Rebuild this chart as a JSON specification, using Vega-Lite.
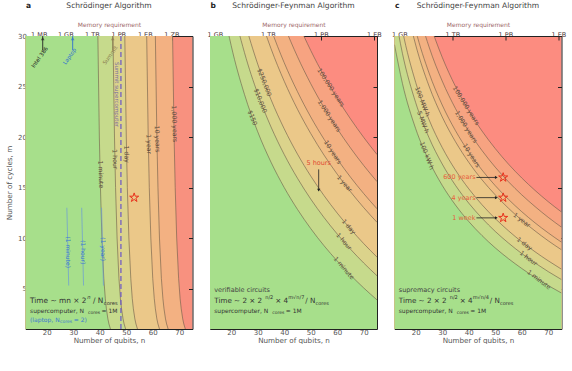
{
"$schema": "https://vega.github.io/schema/vega-lite/v6.json",
"background": "white",
"padding": {"left": 5.5, "top": 2, "right": 0, "bottom": 0},
"bounds": "flush",
"spacing": 17.5,
"config": {
 "font": "DejaVu Sans",
 "view": {"stroke": null},
 "axis": {"grid": false, "domain": true, "domainColor": "#222", "domainWidth": 1, "labelFont": "DejaVu Sans", "titleFont": "DejaVu Sans", "labelFontSize": 7, "titleFontSize": 7.2, "titleFontWeight": "normal", "labelColor": "#555", "titleColor": "#555", "tickColor": "#222", "tickSize": -4, "labelPadding": 3, "zindex": 1}
},
"datasets": {
 "ca": [
  {"lv":"1min","m":30,"n":12,"e":1},{"lv":"1h","m":30,"n":12,"e":1},{"lv":"1d","m":30,"n":12,"e":1},{"lv":"1y","m":30,"n":12,"e":1},{"lv":"10y","m":30,"n":12,"e":1},{"lv":"1000y","m":30,"n":12,"e":1},
  {"lv":"1min","m":1,"n":44.05},{"lv":"1min","m":1.5,"n":43.48},{"lv":"1min","m":2,"n":43.08},{"lv":"1min","m":3,"n":42.51},{"lv":"1min","m":4,"n":42.11},{"lv":"1min","m":6,"n":41.54},{"lv":"1min","m":10,"n":40.83},{"lv":"1min","m":15,"n":40.27},{"lv":"1min","m":20,"n":39.86},{"lv":"1min","m":30,"n":39.3},
  {"lv":"1h","m":1,"n":49.77},{"lv":"1h","m":1.5,"n":49.2},{"lv":"1h","m":2,"n":48.8},{"lv":"1h","m":3,"n":48.23},{"lv":"1h","m":4,"n":47.82},{"lv":"1h","m":6,"n":47.25},{"lv":"1h","m":10,"n":46.55},{"lv":"1h","m":15,"n":45.97},{"lv":"1h","m":20,"n":45.57},{"lv":"1h","m":30,"n":45.0},
  {"lv":"1d","m":1,"n":54.24},{"lv":"1d","m":1.5,"n":53.67},{"lv":"1d","m":2,"n":53.26},{"lv":"1d","m":3,"n":52.69},{"lv":"1d","m":4,"n":52.28},{"lv":"1d","m":6,"n":51.72},{"lv":"1d","m":10,"n":51.0},{"lv":"1d","m":15,"n":50.42},{"lv":"1d","m":20,"n":50.02},{"lv":"1d","m":30,"n":49.46},
  {"lv":"1y","m":1,"n":62.54},{"lv":"1y","m":1.5,"n":61.97},{"lv":"1y","m":2,"n":61.56},{"lv":"1y","m":3,"n":60.99},{"lv":"1y","m":4,"n":60.58},{"lv":"1y","m":6,"n":60.0},{"lv":"1y","m":10,"n":59.28},{"lv":"1y","m":15,"n":58.7},{"lv":"1y","m":20,"n":58.29},{"lv":"1y","m":30,"n":57.72},
  {"lv":"10y","m":1,"n":65.81},{"lv":"10y","m":1.5,"n":65.23},{"lv":"10y","m":2,"n":64.82},{"lv":"10y","m":3,"n":64.25},{"lv":"10y","m":4,"n":63.84},{"lv":"10y","m":6,"n":63.26},{"lv":"10y","m":10,"n":62.54},{"lv":"10y","m":15,"n":61.97},{"lv":"10y","m":20,"n":61.56},{"lv":"10y","m":30,"n":60.99},
  {"lv":"1000y","m":1,"n":72.29},{"lv":"1000y","m":1.5,"n":71.72},{"lv":"1000y","m":2,"n":71.31},{"lv":"1000y","m":3,"n":70.74},{"lv":"1000y","m":4,"n":70.33},{"lv":"1000y","m":6,"n":69.76},{"lv":"1000y","m":10,"n":69.04},{"lv":"1000y","m":15,"n":68.47},{"lv":"1000y","m":20,"n":68.06},{"lv":"1000y","m":30,"n":67.49}
 ],
 "cb": [
  {"lv":"1min","n":12,"m":41.53},{"lv":"1min","n":15,"m":35.79},{"lv":"1min","n":20,"m":29.04},{"lv":"1min","n":25,"m":24.22},{"lv":"1min","n":30,"m":20.52},{"lv":"1min","n":35,"m":17.52},{"lv":"1min","n":40,"m":15.0},{"lv":"1min","n":45,"m":12.84},{"lv":"1min","n":50,"m":10.94},{"lv":"1min","n":55,"m":9.25},{"lv":"1min","n":60,"m":7.73},{"lv":"1min","n":65,"m":6.34},{"lv":"1min","n":70,"m":5.06},{"lv":"1min","n":75,"m":3.88},
  {"lv":"1h","n":12,"m":47.5},{"lv":"1h","n":15,"m":41.13},{"lv":"1h","n":20,"m":33.66},{"lv":"1h","n":25,"m":28.36},{"lv":"1h","n":30,"m":24.29},{"lv":"1h","n":35,"m":21.01},{"lv":"1h","n":40,"m":18.27},{"lv":"1h","n":45,"m":15.92},{"lv":"1h","n":50,"m":13.86},{"lv":"1h","n":55,"m":12.04},{"lv":"1h","n":60,"m":10.4},{"lv":"1h","n":65,"m":8.9},{"lv":"1h","n":70,"m":7.53},{"lv":"1h","n":75,"m":6.27},
  {"lv":"1d","n":12,"m":52.1},{"lv":"1d","n":15,"m":45.28},{"lv":"1d","n":20,"m":37.25},{"lv":"1d","n":25,"m":31.57},{"lv":"1d","n":30,"m":27.22},{"lv":"1d","n":35,"m":23.72},{"lv":"1d","n":40,"m":20.81},{"lv":"1d","n":45,"m":18.31},{"lv":"1d","n":50,"m":16.14},{"lv":"1d","n":55,"m":14.21},{"lv":"1d","n":60,"m":12.47},{"lv":"1d","n":65,"m":10.9},{"lv":"1d","n":70,"m":9.45},{"lv":"1d","n":75,"m":8.12},
  {"lv":"1y","n":12,"m":60.7},{"lv":"1y","n":15,"m":52.97},{"lv":"1y","n":20,"m":43.91},{"lv":"1y","n":25,"m":37.53},{"lv":"1y","n":30,"m":32.66},{"lv":"1y","n":35,"m":28.76},{"lv":"1y","n":40,"m":25.52},{"lv":"1y","n":45,"m":22.75},{"lv":"1y","n":50,"m":20.35},{"lv":"1y","n":55,"m":18.22},{"lv":"1y","n":60,"m":16.32},{"lv":"1y","n":65,"m":14.59},{"lv":"1y","n":70,"m":13.01},{"lv":"1y","n":75,"m":11.56},
  {"lv":"10y","n":12,"m":64.1},{"lv":"10y","n":15,"m":55.97},{"lv":"10y","n":20,"m":46.51},{"lv":"10y","n":25,"m":39.85},{"lv":"10y","n":30,"m":34.78},{"lv":"10y","n":35,"m":30.72},{"lv":"10y","n":40,"m":27.35},{"lv":"10y","n":45,"m":24.49},{"lv":"10y","n":50,"m":21.99},{"lv":"10y","n":55,"m":19.79},{"lv":"10y","n":60,"m":17.82},{"lv":"10y","n":65,"m":16.03},{"lv":"10y","n":70,"m":14.4},{"lv":"10y","n":75,"m":12.9},
  {"lv":"1000y","n":12,"m":70.8},{"lv":"1000y","n":15,"m":61.97},{"lv":"1000y","n":20,"m":51.71},{"lv":"1000y","n":25,"m":44.5},{"lv":"1000y","n":30,"m":39.03},{"lv":"1000y","n":35,"m":34.65},{"lv":"1000y","n":40,"m":31.03},{"lv":"1000y","n":45,"m":27.95},{"lv":"1000y","n":50,"m":25.28},{"lv":"1000y","n":55,"m":22.92},{"lv":"1000y","n":60,"m":20.82},{"lv":"1000y","n":65,"m":18.92},{"lv":"1000y","n":70,"m":17.18},{"lv":"1000y","n":75,"m":15.59},
  {"lv":"1e5y","n":12,"m":77.5},{"lv":"1e5y","n":15,"m":67.97},{"lv":"1e5y","n":20,"m":56.91},{"lv":"1e5y","n":25,"m":49.15},{"lv":"1e5y","n":30,"m":43.27},{"lv":"1e5y","n":35,"m":38.58},{"lv":"1e5y","n":40,"m":34.7},{"lv":"1e5y","n":45,"m":31.42},{"lv":"1e5y","n":50,"m":28.57},{"lv":"1e5y","n":55,"m":26.06},{"lv":"1e5y","n":60,"m":23.82},{"lv":"1e5y","n":65,"m":21.8},{"lv":"1e5y","n":70,"m":19.96},{"lv":"1e5y","n":75,"m":18.27}
 ],
 "cc": [
  {"lv":"1min","n":12,"m":29.14},{"lv":"1min","n":15,"m":25.3},{"lv":"1min","n":20,"m":20.82},{"lv":"1min","n":25,"m":17.65},{"lv":"1min","n":30,"m":15.22},{"lv":"1min","n":35,"m":13.27},{"lv":"1min","n":40,"m":11.64},{"lv":"1min","n":45,"m":10.25},{"lv":"1min","n":50,"m":9.03},{"lv":"1min","n":55,"m":7.96},{"lv":"1min","n":60,"m":6.99},{"lv":"1min","n":65,"m":6.11},{"lv":"1min","n":70,"m":5.3},{"lv":"1min","n":75,"m":4.56},
  {"lv":"1h","n":12,"m":32.46},{"lv":"1h","n":15,"m":28.27},{"lv":"1h","n":20,"m":23.4},{"lv":"1h","n":25,"m":19.95},{"lv":"1h","n":30,"m":17.33},{"lv":"1h","n":35,"m":15.22},{"lv":"1h","n":40,"m":13.46},{"lv":"1h","n":45,"m":11.97},{"lv":"1h","n":50,"m":10.66},{"lv":"1h","n":55,"m":9.51},{"lv":"1h","n":60,"m":8.47},{"lv":"1h","n":65,"m":7.54},{"lv":"1h","n":70,"m":6.68},{"lv":"1h","n":75,"m":5.89},
  {"lv":"1d","n":12,"m":35.05},{"lv":"1d","n":15,"m":30.58},{"lv":"1d","n":20,"m":25.4},{"lv":"1d","n":25,"m":21.74},{"lv":"1d","n":30,"m":18.96},{"lv":"1d","n":35,"m":16.73},{"lv":"1d","n":40,"m":14.88},{"lv":"1d","n":45,"m":13.3},{"lv":"1d","n":50,"m":11.93},{"lv":"1d","n":55,"m":10.72},{"lv":"1d","n":60,"m":9.63},{"lv":"1d","n":65,"m":8.65},{"lv":"1d","n":70,"m":7.75},{"lv":"1d","n":75,"m":6.92},
  {"lv":"1y","n":12,"m":39.84},{"lv":"1y","n":15,"m":34.87},{"lv":"1y","n":20,"m":29.11},{"lv":"1y","n":25,"m":25.06},{"lv":"1y","n":30,"m":21.99},{"lv":"1y","n":35,"m":19.54},{"lv":"1y","n":40,"m":17.5},{"lv":"1y","n":45,"m":15.77},{"lv":"1y","n":50,"m":14.28},{"lv":"1y","n":55,"m":12.95},{"lv":"1y","n":60,"m":11.77},{"lv":"1y","n":65,"m":10.71},{"lv":"1y","n":70,"m":9.73},{"lv":"1y","n":75,"m":8.84},
  {"lv":"10y","n":12,"m":41.71},{"lv":"10y","n":15,"m":36.54},{"lv":"10y","n":20,"m":30.56},{"lv":"10y","n":25,"m":26.36},{"lv":"10y","n":30,"m":23.17},{"lv":"10y","n":35,"m":20.63},{"lv":"10y","n":40,"m":18.52},{"lv":"10y","n":45,"m":16.74},{"lv":"10y","n":50,"m":15.19},{"lv":"10y","n":55,"m":13.83},{"lv":"10y","n":60,"m":12.61},{"lv":"10y","n":65,"m":11.51},{"lv":"10y","n":70,"m":10.51},{"lv":"10y","n":75,"m":9.59},
  {"lv":"1000y","n":12,"m":45.44},{"lv":"1000y","n":15,"m":39.88},{"lv":"1000y","n":20,"m":33.45},{"lv":"1000y","n":25,"m":28.95},{"lv":"1000y","n":30,"m":25.54},{"lv":"1000y","n":35,"m":22.82},{"lv":"1000y","n":40,"m":20.57},{"lv":"1000y","n":45,"m":18.67},{"lv":"1000y","n":50,"m":17.02},{"lv":"1000y","n":55,"m":15.57},{"lv":"1000y","n":60,"m":14.28},{"lv":"1000y","n":65,"m":13.12},{"lv":"1000y","n":70,"m":12.05},{"lv":"1000y","n":75,"m":11.08},
  {"lv":"1e5y","n":12,"m":49.18},{"lv":"1e5y","n":15,"m":43.23},{"lv":"1e5y","n":20,"m":36.35},{"lv":"1e5y","n":25,"m":31.54},{"lv":"1e5y","n":30,"m":27.9},{"lv":"1e5y","n":35,"m":25.01},{"lv":"1e5y","n":40,"m":22.62},{"lv":"1e5y","n":45,"m":20.6},{"lv":"1e5y","n":50,"m":18.86},{"lv":"1e5y","n":55,"m":17.32},{"lv":"1e5y","n":60,"m":15.95},{"lv":"1e5y","n":65,"m":14.72},{"lv":"1e5y","n":70,"m":13.6},{"lv":"1e5y","n":75,"m":12.58}
 ]
},
"hconcat": [
 {
  "width": 167, "height": 293,
  "view": {"fill": "#f8917f", "stroke": null},
  "encoding": {
   "x": {"field": "n", "type": "quantitative", "scale": {"domain": [12, 75], "nice": false, "zero": false}, "axis": null},
   "y": {"field": "m", "type": "quantitative", "scale": {"domain": [1, 30], "nice": false, "zero": false}, "axis": null}
  },
  "layer": [
   {"data": {"name": "ca"}, "transform": [{"filter": {"field": "lv", "equal": "1000y"}}], "mark": {"type": "area", "color": "#f3b182", "clip": true}},
   {"data": {"name": "ca"}, "transform": [{"filter": {"field": "lv", "equal": "10y"}}], "mark": {"type": "area", "color": "#f0bd85", "clip": true}},
   {"data": {"name": "ca"}, "transform": [{"filter": {"field": "lv", "equal": "1y"}}], "mark": {"type": "area", "color": "#ebc889", "clip": true}},
   {"data": {"name": "ca"}, "transform": [{"filter": {"field": "lv", "equal": "1d"}}], "mark": {"type": "area", "color": "#dbd38b", "clip": true}},
   {"data": {"name": "ca"}, "transform": [{"filter": {"field": "lv", "equal": "1h"}}], "mark": {"type": "area", "color": "#c6da8c", "clip": true}},
   {"data": {"name": "ca"}, "transform": [{"filter": {"field": "lv", "equal": "1min"}}], "mark": {"type": "area", "color": "#a7df8b", "clip": true}},
   {"data": {"name": "ca"}, "transform": [{"filter": {"not": {"field": "e", "equal": 1}}}], "mark": {"type": "line", "color": "#6b5a48", "strokeWidth": 0.6, "clip": true},
    "encoding": {
     "x": {"field": "n", "type": "quantitative", "axis": {"orient": "bottom", "values": [20, 30, 40, 50, 60, 70], "title": "Number of qubits, n", "titlePadding": 1}},
     "y": {"field": "m", "type": "quantitative", "axis": {"orient": "left", "values": [5, 10, 15, 20, 25, 30], "title": "Number of cycles, m", "titlePadding": 4}},
     "detail": {"field": "lv"}}},
   {"data": {"values": [{"n": 40.4, "m": 16.3, "t": "1 minute"}, {"n": 45.75, "m": 17.8, "t": "1 hour"}, {"n": 50.1, "m": 18.3, "t": "1 day"}, {"n": 58.5, "m": 19.3, "t": "1 year"}, {"n": 61.7, "m": 19.8, "t": "10 years"}, {"n": 68.2, "m": 21.3, "t": "1,000 years"}]},
    "mark": {"type": "text", "angle": 88, "fontSize": 6.2, "color": "#5b4a3c"}, "encoding": {"text": {"field": "t"}}},
   {"data": {"values": [{"n": 48}]}, "mark": {"type": "rule", "color": "#6a55c8", "strokeWidth": 1.2, "strokeDash": [5, 3]}, "encoding": {"y": null}},
   {"data": {"values": [{"n": 46.5, "m": 24.2, "t": "Summit supercomputer"}]}, "mark": {"type": "text", "angle": 90, "fontSize": 5.5, "color": "#7a70a0"}, "encoding": {"text": {"field": "t"}}},
   {"data": {"values": [{"n": 18.5, "m": 30, "m2": 28.6, "c": "k"}, {"n": 29.8, "m": 30, "m2": 28.6, "c": "b"}, {"n": 44.9, "m": 30, "m2": 28.6, "c": "s"}]},
    "mark": {"type": "rule", "strokeWidth": 0.9}, "encoding": {"y2": {"field": "m2"}, "color": {"field": "c", "type": "nominal", "scale": {"domain": ["k", "b", "s"], "range": ["#222222", "#2f6fd0", "#8a7a50"]}, "legend": null}}},
   {"data": {"values": [{"n": 18.5, "m": 29.75, "c": "k"}, {"n": 29.8, "m": 29.75, "c": "b"}, {"n": 44.9, "m": 29.75, "c": "s"}]},
    "mark": {"type": "point", "shape": "triangle-up", "filled": true, "size": 14}, "encoding": {"color": {"field": "c", "type": "nominal", "scale": {"domain": ["k", "b", "s"], "range": ["#222222", "#2f6fd0", "#8a7a50"]}, "legend": null}}},
   {"data": {"values": [{"n": 17.3, "m": 27.9, "t": "Intel 386", "c": "k"}, {"n": 28.6, "m": 28.0, "t": "Laptop", "c": "b"}, {"n": 43.9, "m": 28.1, "t": "Summit", "c": "s"}]},
    "mark": {"type": "text", "angle": -55, "fontSize": 5.5}, "encoding": {"text": {"field": "t"}, "color": {"field": "c", "type": "nominal", "scale": {"domain": ["k", "b", "s"], "range": ["#222222", "#2f6fd0", "#8a7a50"]}, "legend": null}}},
   {"data": {"values": [{"g": "a", "n": 27.6, "m": 13}, {"g": "a", "n": 28.3, "m": 5.3}, {"g": "b", "n": 33.2, "m": 13}, {"g": "b", "n": 33.9, "m": 5.3}, {"g": "c", "n": 40.7, "m": 13}, {"g": "c", "n": 41.4, "m": 5.3}]},
    "mark": {"type": "line", "color": "#6a9ad8", "strokeWidth": 0.7}, "encoding": {"detail": {"field": "g"}, "order": {"field": "m"}}},
   {"data": {"values": [{"n": 28.0, "m": 8.6, "t": "(1 minute)"}, {"n": 33.6, "m": 8.6, "t": "(1 hour)"}, {"n": 41.1, "m": 8.9, "t": "(1 year)"}]},
    "mark": {"type": "text", "angle": 90, "fontSize": 6, "color": "#3a78d0"}, "encoding": {"text": {"field": "t"}}},
   {"data": {"values": [{"n": 14}, {"n": 15.5}, {"n": 17}, {"n": 18.5}, {"n": 20}, {"n": 21.5}, {"n": 23}, {"n": 24.5}, {"n": 26}, {"n": 27.5}, {"n": 29}, {"n": 30.5}, {"n": 32}, {"n": 33.5}, {"n": 35}, {"n": 36.5}, {"n": 38}]},
    "mark": {"type": "point", "shape": "circle", "size": 26, "filled": false, "color": "#e8401c", "strokeWidth": 1, "opacity": 1},
    "encoding": {
     "x": {"field": "n", "type": "quantitative", "axis": {"orient": "top", "values": [17, 27, 37, 47, 57, 67], "labelExpr": "datum.value < 20 ? '1 MB' : datum.value < 30 ? '1 GB' : datum.value < 40 ? '1 TB' : datum.value < 50 ? '1 PB' : datum.value < 60 ? '1 EB' : '1 ZB'", "title": "Memory requirement", "titleColor": "#a06a6a", "titleFontSize": 6, "labelFontSize": 6.5, "labelColor": "#4a3535", "titlePadding": 4}},
     "y": {"datum": 14, "type": "quantitative", "axis": {"orient": "right", "values": [5, 10, 15, 20, 25, 30], "labels": false, "title": null}}}},
   {"data": {"values": [{"n": 53, "m": 14}]}, "mark": {"type": "point", "shape": "M0,-1L0.2245,-0.309L0.951,-0.309L0.363,0.118L0.588,0.809L0,0.382L-0.588,0.809L-0.363,0.118L-0.951,-0.309L-0.2245,-0.309Z", "size": 90, "filled": false, "color": "#e8301c", "strokeWidth": 1, "opacity": 1}},
   {"data": {"values": [{"n": 13.7, "m": 3.8}]}, "mark": {"type": "text", "align": "left", "fontSize": 7.4, "color": "#333", "text": "Time ~ mn × 2"}},
   {"data": {"values": [{"n": 13.7, "m": 3.8}]}, "mark": {"type": "text", "align": "left", "fontSize": 5.2, "color": "#333", "text": "n", "dx": 57.2, "dy": -3.5, "fontStyle": "italic"}},
   {"data": {"values": [{"n": 13.7, "m": 3.8}]}, "mark": {"type": "text", "align": "left", "fontSize": 7.4, "color": "#333", "text": "/ N", "dx": 63}},
   {"data": {"values": [{"n": 13.7, "m": 3.8}]}, "mark": {"type": "text", "align": "left", "fontSize": 5.2, "color": "#333", "text": "cores", "dx": 73.8, "dy": 2}},
   {"data": {"values": [{"n": 13.7, "m": 2.8}]}, "mark": {"type": "text", "align": "left", "fontSize": 6, "color": "#333", "text": "supercomputer, N"}},
   {"data": {"values": [{"n": 13.7, "m": 2.8}]}, "mark": {"type": "text", "align": "left", "fontSize": 4.5, "color": "#333", "text": "cores", "dx": 58, "dy": 1.8}},
   {"data": {"values": [{"n": 13.7, "m": 2.8}]}, "mark": {"type": "text", "align": "left", "fontSize": 6, "color": "#333", "text": "= 1M", "dx": 71.5}},
   {"data": {"values": [{"n": 13.7, "m": 1.9}]}, "mark": {"type": "text", "align": "left", "fontSize": 6, "color": "#3a78d0", "text": "(laptop, N"}},
   {"data": {"values": [{"n": 13.7, "m": 1.9}]}, "mark": {"type": "text", "align": "left", "fontSize": 4.5, "color": "#3a78d0", "text": "cores", "dx": 30, "dy": 1.8}},
   {"data": {"values": [{"n": 13.7, "m": 1.9}]}, "mark": {"type": "text", "align": "left", "fontSize": 6, "color": "#3a78d0", "text": "= 2)", "dx": 43.8}},
   {"data": {"values": [{"n": 43.5, "m": 32.95}]}, "mark": {"type": "text", "fontSize": 7.6, "color": "#444", "text": "Schrödinger Algorithm"}},
   {"data": {"values": [{"n": 12.2, "m": 32.95}]}, "mark": {"type": "text", "align": "left", "fontSize": 7.5, "fontWeight": "bold", "color": "#222", "text": "a"}}
  ],
  "resolve": {"axis": {"x": "independent", "y": "independent"}}
 },
 {
  "width": 167, "height": 293,
  "view": {"fill": "#fc8c80", "stroke": null},
  "encoding": {
   "x": {"field": "n", "type": "quantitative", "scale": {"domain": [12, 75], "nice": false, "zero": false}, "axis": null},
   "y": {"field": "m", "type": "quantitative", "scale": {"domain": [1, 30], "nice": false, "zero": false}, "axis": null}
  },
  "layer": [
   {"data": {"name": "cb"}, "transform": [{"filter": {"field": "lv", "equal": "1e5y"}}], "mark": {"type": "area", "color": "#f7a381", "clip": true, "interpolate": "monotone"}},
   {"data": {"name": "cb"}, "transform": [{"filter": {"field": "lv", "equal": "1000y"}}], "mark": {"type": "area", "color": "#f3b182", "clip": true, "interpolate": "monotone"}},
   {"data": {"name": "cb"}, "transform": [{"filter": {"field": "lv", "equal": "10y"}}], "mark": {"type": "area", "color": "#f0bd85", "clip": true, "interpolate": "monotone"}},
   {"data": {"name": "cb"}, "transform": [{"filter": {"field": "lv", "equal": "1y"}}], "mark": {"type": "area", "color": "#ebc889", "clip": true, "interpolate": "monotone"}},
   {"data": {"name": "cb"}, "transform": [{"filter": {"field": "lv", "equal": "1d"}}], "mark": {"type": "area", "color": "#dbd38b", "clip": true, "interpolate": "monotone"}},
   {"data": {"name": "cb"}, "transform": [{"filter": {"field": "lv", "equal": "1h"}}], "mark": {"type": "area", "color": "#c6da8c", "clip": true, "interpolate": "monotone"}},
   {"data": {"name": "cb"}, "transform": [{"filter": {"field": "lv", "equal": "1min"}}], "mark": {"type": "area", "color": "#a7df8b", "clip": true, "interpolate": "monotone"}},
   {"data": {"name": "cb"}, "mark": {"type": "line", "color": "#6b5a48", "strokeWidth": 0.6, "clip": true, "interpolate": "monotone"},
    "encoding": {
     "x": {"field": "n", "type": "quantitative", "axis": {"orient": "bottom", "values": [20, 30, 40, 50, 60, 70], "title": "Number of qubits, n", "titlePadding": 1}},
     "y": {"field": "m", "type": "quantitative", "axis": {"orient": "left", "values": [5, 10, 15, 20, 25, 30], "labels": false, "title": null}},
     "detail": {"field": "lv"}}},
   {"data": {"values": [{"n": 28, "m": 21.9, "t": "$150"}, {"n": 31, "m": 23.6, "t": "$10,000"}, {"n": 32.5, "m": 25.4, "t": "$250,000"}]},
    "mark": {"type": "text", "angle": 69, "fontSize": 6.2, "color": "#5b4a3c"}, "encoding": {"text": {"field": "t"}}},
   {"data": {"values": [{"n": 57.6, "m": 24.9, "t": "100,000 years"}, {"n": 57, "m": 22.08, "t": "1,000 years"}, {"n": 58.3, "m": 18.49, "t": "10 years"}]},
    "mark": {"type": "text", "angle": 57, "fontSize": 6.2, "color": "#5b4a3c"}, "encoding": {"text": {"field": "t"}}},
   {"data": {"values": [{"n": 62.7, "m": 15.39, "t": "1 year"}, {"n": 64.3, "m": 11.12, "t": "1 day"}, {"n": 62.5, "m": 9.65, "t": "1 hour"}, {"n": 62.5, "m": 7.03, "t": "1 minute"}]},
    "mark": {"type": "text", "angle": 49, "fontSize": 6.2, "color": "#5b4a3c"}, "encoding": {"text": {"field": "t"}}},
   {"data": {"values": [{"n": 39}, {"n": 42}, {"n": 43}, {"n": 53}]},
    "mark": {"type": "point", "shape": "circle", "size": 34, "filled": false, "color": "#e8401c", "strokeWidth": 1, "opacity": 1},
    "encoding": {
     "x": {"field": "n", "type": "quantitative", "axis": {"orient": "top", "values": [13.8, 33.8, 53.8, 73.8], "labelExpr": "datum.value < 20 ? '1 GB' : datum.value < 40 ? '1 TB' : datum.value < 60 ? '1 PB' : '1 EB'", "title": "Memory requirement", "titleColor": "#a06a6a", "titleFontSize": 6, "labelFontSize": 6.5, "labelColor": "#4a3535", "titlePadding": 4}},
     "y": {"datum": 14, "type": "quantitative", "axis": {"orient": "right", "values": [5, 10, 15, 20, 25, 30], "labels": false, "title": null}}}},
   {"data": {"values": [{"n": 53, "m": 16.8, "m2": 14.7}]}, "mark": {"type": "rule", "color": "#222", "strokeWidth": 0.8}, "encoding": {"y2": {"field": "m2"}}},
   {"data": {"values": [{"n": 53, "m": 14.75}]}, "mark": {"type": "point", "shape": "triangle-down", "filled": true, "size": 10, "color": "#222", "opacity": 1}},
   {"data": {"values": [{"n": 53, "m": 17.4}]}, "mark": {"type": "text", "fontSize": 6.5, "color": "#e24a33", "text": "5 hours"}},
   {"data": {"values": [{"n": 13.6, "m": 4.85}]}, "mark": {"type": "text", "align": "left", "fontSize": 6.5, "color": "#444", "text": "verifiable circuits"}},
   {"data": {"values": [{"n": 13.6, "m": 3.8}]}, "mark": {"type": "text", "align": "left", "fontSize": 7.2, "color": "#333", "text": "Time ~ 2 × 2"}},
   {"data": {"values": [{"n": 13.6, "m": 3.8}]}, "mark": {"type": "text", "align": "left", "fontSize": 5, "color": "#333", "text": "n/2", "dx": 51, "dy": -3.5}},
   {"data": {"values": [{"n": 13.6, "m": 3.8}]}, "mark": {"type": "text", "align": "left", "fontSize": 7.2, "color": "#333", "text": "× 4", "dx": 61}},
   {"data": {"values": [{"n": 13.6, "m": 3.8}]}, "mark": {"type": "text", "align": "left", "fontSize": 5, "color": "#333", "text": "m√n/7", "dx": 74, "dy": -3.5}},
   {"data": {"values": [{"n": 13.6, "m": 3.8}]}, "mark": {"type": "text", "align": "left", "fontSize": 7.2, "color": "#333", "text": "/ N", "dx": 91}},
   {"data": {"values": [{"n": 13.6, "m": 3.8}]}, "mark": {"type": "text", "align": "left", "fontSize": 5, "color": "#333", "text": "cores", "dx": 101.3, "dy": 2}},
   {"data": {"values": [{"n": 13.6, "m": 2.8}]}, "mark": {"type": "text", "align": "left", "fontSize": 6, "color": "#333", "text": "supercomputer, N"}},
   {"data": {"values": [{"n": 13.6, "m": 2.8}]}, "mark": {"type": "text", "align": "left", "fontSize": 4.5, "color": "#333", "text": "cores", "dx": 58, "dy": 1.8}},
   {"data": {"values": [{"n": 13.6, "m": 2.8}]}, "mark": {"type": "text", "align": "left", "fontSize": 6, "color": "#333", "text": "= 1M", "dx": 71.5}},
   {"data": {"values": [{"n": 43.5, "m": 32.95}]}, "mark": {"type": "text", "fontSize": 7.6, "color": "#444", "text": "Schrödinger-Feynman Algorithm"}},
   {"data": {"values": [{"n": 12.2, "m": 32.95}]}, "mark": {"type": "text", "align": "left", "fontSize": 7.5, "fontWeight": "bold", "color": "#222", "text": "b"}}
  ],
  "resolve": {"axis": {"x": "independent", "y": "independent"}}
 },
 {
  "width": 167, "height": 293,
  "view": {"fill": "#fc8c80", "stroke": null},
  "encoding": {
   "x": {"field": "n", "type": "quantitative", "scale": {"domain": [12, 75], "nice": false, "zero": false}, "axis": null},
   "y": {"field": "m", "type": "quantitative", "scale": {"domain": [1, 30], "nice": false, "zero": false}, "axis": null}
  },
  "layer": [
   {"data": {"name": "cc"}, "transform": [{"filter": {"field": "lv", "equal": "1e5y"}}], "mark": {"type": "area", "color": "#f7a381", "clip": true, "interpolate": "monotone"}},
   {"data": {"name": "cc"}, "transform": [{"filter": {"field": "lv", "equal": "1000y"}}], "mark": {"type": "area", "color": "#f3b182", "clip": true, "interpolate": "monotone"}},
   {"data": {"name": "cc"}, "transform": [{"filter": {"field": "lv", "equal": "10y"}}], "mark": {"type": "area", "color": "#f0bd85", "clip": true, "interpolate": "monotone"}},
   {"data": {"name": "cc"}, "transform": [{"filter": {"field": "lv", "equal": "1y"}}], "mark": {"type": "area", "color": "#ebc889", "clip": true, "interpolate": "monotone"}},
   {"data": {"name": "cc"}, "transform": [{"filter": {"field": "lv", "equal": "1d"}}], "mark": {"type": "area", "color": "#dbd38b", "clip": true, "interpolate": "monotone"}},
   {"data": {"name": "cc"}, "transform": [{"filter": {"field": "lv", "equal": "1h"}}], "mark": {"type": "area", "color": "#c6da8c", "clip": true, "interpolate": "monotone"}},
   {"data": {"name": "cc"}, "transform": [{"filter": {"field": "lv", "equal": "1min"}}], "mark": {"type": "area", "color": "#a7df8b", "clip": true, "interpolate": "monotone"}},
   {"data": {"name": "cc"}, "mark": {"type": "line", "color": "#6b5a48", "strokeWidth": 0.6, "clip": true, "interpolate": "monotone"},
    "encoding": {
     "x": {"field": "n", "type": "quantitative", "axis": {"orient": "bottom", "values": [20, 30, 40, 50, 60, 70], "title": "Number of qubits, n", "titlePadding": 1}},
     "y": {"field": "m", "type": "quantitative", "axis": {"orient": "left", "values": [5, 10, 15, 20, 25, 30], "labels": false, "title": null}},
     "detail": {"field": "lv"}}},
   {"data": {"values": [{"n": 22.5, "m": 23.5, "t": "100 MW·h"}, {"n": 22.8, "m": 21.47, "t": "5 MW·h"}, {"n": 24.2, "m": 18.15, "t": "100 kW·h"}]},
    "mark": {"type": "text", "angle": 69, "fontSize": 6.2, "color": "#5b4a3c"}, "encoding": {"text": {"field": "t"}}},
   {"data": {"values": [{"n": 39, "m": 23.1, "t": "100,000 years"}, {"n": 39, "m": 21.0, "t": "1,000 years"}, {"n": 41, "m": 18.16, "t": "10 years"}]},
    "mark": {"type": "text", "angle": 58, "fontSize": 6.2, "color": "#5b4a3c"}, "encoding": {"text": {"field": "t"}}},
   {"data": {"values": [{"n": 60, "m": 11.77, "t": "1 year"}, {"n": 61, "m": 9.43, "t": "1 day"}, {"n": 62.5, "m": 8.0, "t": "1 hour"}, {"n": 66.5, "m": 5.87, "t": "1 minute"}]},
    "mark": {"type": "text", "angle": 37, "fontSize": 6.2, "color": "#5b4a3c"}, "encoding": {"text": {"field": "t"}}},
   {"data": {"values": [{"n1": 42.9, "n2": 50.4, "m": 16}, {"n1": 42.9, "n2": 50.4, "m": 14}, {"n1": 42.9, "n2": 50.4, "m": 12}]},
    "mark": {"type": "rule", "color": "#222", "strokeWidth": 0.8}, "encoding": {"x": {"field": "n1", "type": "quantitative"}, "x2": {"field": "n2"}}},
   {"data": {"values": [{"n": 50.4, "m": 16}, {"n": 50.4, "m": 14}, {"n": 50.4, "m": 12}]}, "mark": {"type": "point", "shape": "triangle-right", "filled": true, "size": 10, "color": "#222", "opacity": 1}},
   {"data": {"values": [{"n": 42.6, "m": 16, "t": "600 years"}, {"n": 42.6, "m": 14, "t": "4 years"}, {"n": 42.6, "m": 12, "t": "1 week"}]},
    "mark": {"type": "text", "align": "right", "fontSize": 6.5, "color": "#e8603c"}, "encoding": {"text": {"field": "t"}}},
   {"data": {"values": [{"n": 53, "m": 16}, {"n": 53, "m": 14}, {"n": 53, "m": 12}]},
    "mark": {"type": "point", "shape": "M0,-1L0.2245,-0.309L0.951,-0.309L0.363,0.118L0.588,0.809L0,0.382L-0.588,0.809L-0.363,0.118L-0.951,-0.309L-0.2245,-0.309Z", "size": 90, "filled": false, "color": "#e8301c", "strokeWidth": 1, "opacity": 1},
    "encoding": {
     "x": {"field": "n", "type": "quantitative", "axis": {"orient": "top", "values": [13.8, 33.8, 53.8, 73.8], "labelExpr": "datum.value < 20 ? '1 GB' : datum.value < 40 ? '1 TB' : datum.value < 60 ? '1 PB' : '1 EB'", "title": "Memory requirement", "titleColor": "#a06a6a", "titleFontSize": 6, "labelFontSize": 6.5, "labelColor": "#4a3535", "titlePadding": 4}},
     "y": {"field": "m", "type": "quantitative", "axis": {"orient": "right", "values": [5, 10, 15, 20, 25, 30], "labels": false, "title": null}}}},
   {"data": {"values": [{"n": 13.6, "m": 4.85}]}, "mark": {"type": "text", "align": "left", "fontSize": 6.5, "color": "#444", "text": "supremacy circuits"}},
   {"data": {"values": [{"n": 13.6, "m": 3.8}]}, "mark": {"type": "text", "align": "left", "fontSize": 7.2, "color": "#333", "text": "Time ~ 2 × 2"}},
   {"data": {"values": [{"n": 13.6, "m": 3.8}]}, "mark": {"type": "text", "align": "left", "fontSize": 5, "color": "#333", "text": "n/2", "dx": 51, "dy": -3.5}},
   {"data": {"values": [{"n": 13.6, "m": 3.8}]}, "mark": {"type": "text", "align": "left", "fontSize": 7.2, "color": "#333", "text": "× 4", "dx": 61}},
   {"data": {"values": [{"n": 13.6, "m": 3.8}]}, "mark": {"type": "text", "align": "left", "fontSize": 5, "color": "#333", "text": "m√n/4", "dx": 74, "dy": -3.5}},
   {"data": {"values": [{"n": 13.6, "m": 3.8}]}, "mark": {"type": "text", "align": "left", "fontSize": 7.2, "color": "#333", "text": "/ N", "dx": 91}},
   {"data": {"values": [{"n": 13.6, "m": 3.8}]}, "mark": {"type": "text", "align": "left", "fontSize": 5, "color": "#333", "text": "cores", "dx": 101.3, "dy": 2}},
   {"data": {"values": [{"n": 13.6, "m": 2.8}]}, "mark": {"type": "text", "align": "left", "fontSize": 6, "color": "#333", "text": "supercomputer, N"}},
   {"data": {"values": [{"n": 13.6, "m": 2.8}]}, "mark": {"type": "text", "align": "left", "fontSize": 4.5, "color": "#333", "text": "cores", "dx": 58, "dy": 1.8}},
   {"data": {"values": [{"n": 13.6, "m": 2.8}]}, "mark": {"type": "text", "align": "left", "fontSize": 6, "color": "#333", "text": "= 1M", "dx": 71.5}},
   {"data": {"values": [{"n": 43.5, "m": 32.95}]}, "mark": {"type": "text", "fontSize": 7.6, "color": "#444", "text": "Schrödinger-Feynman Algorithm"}},
   {"data": {"values": [{"n": 12.2, "m": 32.95}]}, "mark": {"type": "text", "align": "left", "fontSize": 7.5, "fontWeight": "bold", "color": "#222", "text": "c"}}
  ],
  "resolve": {"axis": {"x": "independent", "y": "independent"}}
 }
]
}
